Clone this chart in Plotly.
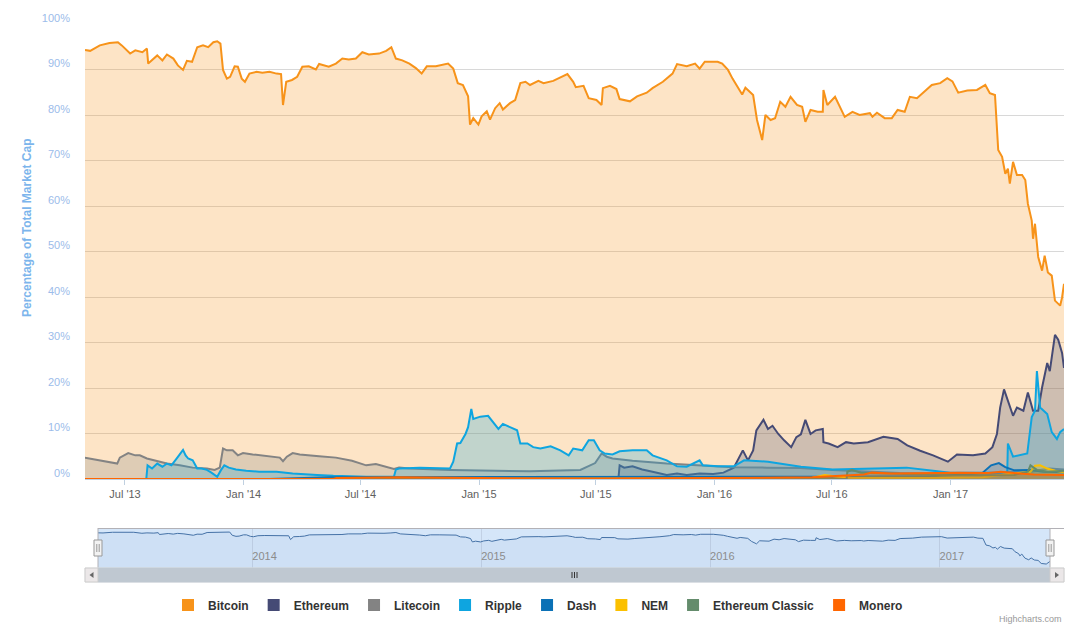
import plotly.graph_objects as go

# ---------------- data (percent of total market cap) ----------------
btc_dates = ["2013-04-30","2013-05-08","2013-05-23","2013-06-07","2013-06-20","2013-06-26","2013-07-09","2013-07-17","2013-07-28","2013-08-04",
"2013-08-06","2013-08-14","2013-08-20","2013-08-28","2013-09-04","2013-09-14","2013-09-21","2013-09-29","2013-10-05","2013-10-13",
"2013-10-21","2013-10-30","2013-11-07","2013-11-15","2013-11-21","2013-11-26","2013-11-30","2013-12-06","2013-12-11","2013-12-18",
"2013-12-23","2013-12-29","2014-01-03","2014-01-10","2014-01-21","2014-01-30","2014-02-10","2014-02-21","2014-02-28","2014-03-03",
"2014-03-08","2014-03-17","2014-03-25","2014-04-02","2014-04-12","2014-04-23","2014-04-28","2014-05-13","2014-05-24","2014-06-03",
"2014-06-13","2014-06-24","2014-07-04","2014-07-14","2014-07-30","2014-08-10","2014-08-18","2014-08-25","2014-09-04","2014-09-15",
"2014-09-25","2014-10-04","2014-10-12","2014-10-26","2014-11-14","2014-11-22","2014-11-29","2014-12-07","2014-12-15","2014-12-18",
"2014-12-23","2014-12-31","2015-01-05","2015-01-13","2015-01-18","2015-01-26","2015-02-02","2015-02-07","2015-02-18","2015-02-26",
"2015-03-06","2015-03-14","2015-03-21","2015-04-03","2015-04-11","2015-04-26","2015-05-18","2015-05-27","2015-05-31","2015-06-12",
"2015-06-20","2015-07-02","2015-07-10","2015-07-12","2015-07-23","2015-08-02","2015-08-07","2015-08-23","2015-09-03","2015-09-18",
"2015-09-27","2015-10-13","2015-10-28","2015-11-04","2015-11-19","2015-12-02","2015-12-09","2015-12-17","2016-01-06","2016-01-13",
"2016-01-22","2016-01-29","2016-02-05","2016-02-13","2016-02-18","2016-02-26","2016-03-01","2016-03-07","2016-03-15","2016-03-20",
"2016-03-28","2016-04-04","2016-04-12","2016-04-20","2016-04-28","2016-05-08","2016-05-16","2016-05-21","2016-05-29","2016-06-09",
"2016-06-17","2016-06-18","2016-06-24","2016-07-06","2016-07-13","2016-07-21","2016-08-02","2016-08-13","2016-08-29","2016-09-02",
"2016-09-09","2016-09-21","2016-10-02","2016-10-11","2016-10-22","2016-10-30","2016-11-10","2016-11-19","2016-12-03","2016-12-16",
"2016-12-27","2017-01-04","2017-01-13","2017-01-27","2017-02-11","2017-02-24","2017-03-03","2017-03-11","2017-03-16","2017-03-22",
"2017-03-27","2017-03-31","2017-04-03","2017-04-08","2017-04-14","2017-04-22","2017-04-27","2017-05-01","2017-05-07","2017-05-09",
"2017-05-12","2017-05-17","2017-05-23","2017-05-27","2017-06-01","2017-06-07","2017-06-12","2017-06-20","2017-06-23","2017-06-26"]
btc_vals = [94.3,94.1,95.3,95.8,96.0,95.3,93.5,94.2,93.8,94.6,
91.3,92.4,93.1,92.0,93.3,92.4,90.9,89.9,91.9,91.7,
94.9,95.3,94.9,96.0,96.2,95.7,89.9,88.0,88.4,90.7,
90.6,88.0,87.3,89.1,89.5,89.3,89.5,89.1,89.0,82.2,
87.3,87.7,88.4,90.6,90.7,90.0,91.2,90.6,91.3,92.4,
92.2,92.4,93.8,93.3,93.5,94.1,94.9,92.4,92.0,91.3,
90.3,89.1,90.7,90.7,91.3,90.2,87.0,86.6,84.1,77.9,
79.3,77.9,79.7,80.8,79.0,81.5,82.6,81.2,82.6,83.3,
87.0,87.3,86.6,87.5,87.0,87.5,89.0,87.3,86.1,86.4,
83.7,83.3,82.2,85.9,86.4,85.7,83.5,83.0,84.1,84.9,
85.9,87.3,89.1,91.2,90.7,91.3,90.2,91.7,91.7,91.3,
89.9,88.0,86.5,84.5,86.0,85.0,84.4,78.9,74.5,80.0,
78.9,79.3,82.9,81.8,84.0,82.2,81.8,78.5,81.1,80.7,
80.7,85.5,82.2,84.0,81.8,79.6,80.7,80.0,80.4,79.6,
80.5,79.3,79.3,81.1,80.7,84.0,83.7,84.8,86.6,87.0,
88.1,87.4,84.9,85.4,85.5,86.6,84.8,84.4,72.3,70.8,
67.1,68.2,64.9,69.7,66.8,66.8,65.7,60.5,56.8,52.8,
56.1,48.8,45.8,49.1,45.4,44.7,39.2,38.1,39.9,42.9]

eth_dates = ["2013-04-30","2015-08-05","2015-08-07","2015-08-14","2015-08-27","2015-09-11","2015-09-27","2015-10-19","2015-11-04","2015-11-19",
"2015-12-09","2015-12-30","2016-01-15","2016-01-31","2016-02-14","2016-02-22","2016-03-01","2016-03-06","2016-03-17","2016-03-24",
"2016-03-31","2016-04-09","2016-04-18","2016-04-29","2016-05-07","2016-05-14","2016-05-21","2016-05-29","2016-06-06","2016-06-17",
"2016-06-18","2016-06-26","2016-07-10","2016-07-23","2016-08-04","2016-08-26","2016-09-19","2016-10-11","2016-10-26","2016-11-15",
"2016-12-05","2016-12-28","2017-01-11","2017-02-05","2017-02-24","2017-03-07","2017-03-14","2017-03-19","2017-03-25","2017-03-31",
"2017-04-08","2017-04-14","2017-04-24","2017-05-01","2017-05-09","2017-05-17","2017-05-23","2017-05-31","2017-06-04","2017-06-12",
"2017-06-17","2017-06-23","2017-06-26"]
eth_vals = [0,0,3.0,2.5,2.8,2.1,1.6,0.9,1.2,0.9,
1.2,1.1,1.4,2.5,6.3,4.1,6.3,10.7,13.0,11.0,
11.7,9.9,8.5,7.0,9.2,9.8,13.0,9.9,10.7,11.0,
8.1,7.8,7.0,8.1,7.8,8.1,9.3,8.8,7.4,6.2,
5.2,3.8,5.4,5.2,5.6,7.0,9.9,15.7,19.7,17.2,
13.9,15.7,15.0,19.0,15.0,15.0,20.1,25.5,23.7,31.7,
30.6,27.7,24.4]

ltc_dates = ["2013-04-30","2013-05-23","2013-06-07","2013-06-19","2013-06-23","2013-07-06","2013-07-17","2013-07-24","2013-08-04","2013-08-20",
"2013-09-04","2013-09-24","2013-10-14","2013-11-05","2013-11-17","2013-11-25","2013-11-30","2013-12-06","2013-12-15","2013-12-23",
"2013-12-31","2014-01-15","2014-02-06","2014-02-26","2014-03-03","2014-03-09","2014-03-18","2014-03-29","2014-04-28","2014-05-24",
"2014-06-18","2014-07-10","2014-07-25","2014-08-14","2014-08-22","2014-08-30","2014-09-15","2014-11-17","2015-01-22","2015-03-21",
"2015-06-07","2015-06-30","2015-07-10","2015-07-18","2015-07-27","2015-08-27","2015-10-19","2015-12-09","2016-01-29","2016-03-22",
"2016-05-13","2016-07-02","2016-08-22","2016-10-14","2017-01-01","2017-03-03","2017-04-03","2017-05-04","2017-05-20","2017-06-04",
"2017-06-26"]
ltc_vals = [4.7,4.1,3.8,3.4,4.7,5.7,5.2,5.2,4.5,4.0,
3.4,3.0,2.5,2.3,2.0,2.5,6.7,6.3,6.3,5.2,
5.7,5.4,5.0,4.7,3.9,4.9,5.7,5.4,5.0,4.7,
4.0,3.0,3.3,2.5,2.2,2.5,2.3,2.0,1.8,1.7,
2.0,3.5,5.6,4.9,4.5,4.0,3.4,3.0,2.6,2.5,
2.4,2.0,1.6,1.3,1.1,1.2,1.5,1.5,2.0,2.3,
2.1]

xrp_dates = ["2013-04-30","2013-08-03","2013-08-05","2013-08-12","2013-08-20","2013-08-28","2013-09-04","2013-09-11","2013-09-19","2013-09-24",
"2013-09-29","2013-10-03","2013-10-07","2013-10-14","2013-10-21","2013-10-28","2013-11-05","2013-11-12","2013-11-21","2013-11-27",
"2013-12-02","2013-12-09","2013-12-20","2014-01-05","2014-01-25","2014-02-21","2014-03-18","2014-04-25","2014-05-20","2014-07-10",
"2014-08-22","2014-08-25","2014-08-30","2014-10-01","2014-11-17","2014-11-22","2014-11-28","2014-12-03","2014-12-11","2014-12-15",
"2014-12-20","2014-12-23","2015-01-03","2015-01-15","2015-01-23","2015-01-31","2015-02-07","2015-02-18","2015-03-01","2015-03-06",
"2015-03-17","2015-03-26","2015-04-06","2015-04-22","2015-05-07","2015-05-20","2015-05-27","2015-06-10","2015-06-20","2015-06-28",
"2015-07-07","2015-07-15","2015-07-27","2015-08-07","2015-08-27","2015-09-18","2015-09-27","2015-10-19","2015-11-04","2015-11-19",
"2015-12-09","2015-12-14","2016-01-06","2016-01-31","2016-02-16","2016-03-24","2016-04-18","2016-05-14","2016-07-02","2016-09-13",
"2016-10-25","2016-12-05","2017-01-01","2017-02-21","2017-03-30","2017-03-31","2017-04-08","2017-04-30","2017-05-07","2017-05-12",
"2017-05-15","2017-05-20","2017-05-31","2017-06-07","2017-06-15","2017-06-20","2017-06-26"]
xrp_vals = [0,0,3.0,2.3,3.4,2.7,3.4,3.0,4.5,5.4,
6.4,5.2,4.5,4.1,2.3,2.3,2.0,1.4,0.5,2.0,
3.0,2.5,2.1,1.8,1.6,1.6,1.2,0.9,0.7,0.5,
0.5,2.1,2.3,2.5,2.3,3.8,7.8,7.9,9.9,11.4,
15.4,13.2,13.7,13.9,12.5,11.0,12.1,11.4,10.7,7.8,
7.8,7.0,6.7,7.2,6.3,5.2,6.7,6.3,8.5,8.5,
6.3,5.6,5.4,6.1,6.3,6.3,5.2,4.1,2.8,2.7,
4.1,3.0,2.8,2.8,4.1,3.8,3.2,2.7,2.1,2.3,
2.5,1.8,1.4,1.4,1.4,7.8,4.9,5.6,13.6,15.0,
23.7,15.7,14.3,10.3,8.8,10.3,11.0]

dash_dates = ["2013-04-30","2014-02-10","2014-05-15","2014-07-01","2014-08-20","2014-10-01","2015-01-01","2015-07-01","2016-01-01","2016-07-01",
"2016-12-01","2017-01-27","2017-02-20","2017-03-05","2017-03-17","2017-03-27","2017-04-10","2017-05-05","2017-05-25","2017-06-26"]
dash_vals = [0,0,0.4,0.4,0.5,0.5,0.4,0.4,0.5,0.5,
0.6,1.0,1.4,3.0,3.5,2.6,1.9,2.0,1.6,1.5]

nem_dates = ["2013-04-30","2015-04-01","2015-04-05","2016-01-01","2016-06-01","2016-06-20","2016-07-05","2016-08-01","2016-12-01","2017-02-20",
"2017-03-20","2017-04-20","2017-05-05","2017-05-12","2017-05-20","2017-05-31","2017-06-12","2017-06-26"]
nem_vals = [0,0,0.1,0.1,0.3,0.9,0.6,0.3,0.3,0.4,
0.9,1.4,1.6,2.9,3.0,2.3,1.8,1.5]

etc_dates = ["2013-04-30","2016-07-24","2016-07-25","2016-08-01","2016-08-15","2016-09-15","2016-11-01","2017-01-01","2017-03-01","2017-04-10",
"2017-05-01","2017-05-05","2017-05-15","2017-06-01","2017-06-26"]
etc_vals = [0,0,1.6,2.0,1.4,1.3,1.0,0.8,0.8,0.9,
1.6,3.0,2.0,1.6,1.8]

xmr_dates = ["2013-04-30","2014-05-20","2014-05-25","2014-09-01","2015-01-01","2015-07-01","2016-01-01","2016-06-01","2016-08-20","2016-09-01",
"2016-10-01","2016-12-01","2017-01-15","2017-03-01","2017-03-20","2017-04-10","2017-05-10","2017-06-26"]
xmr_vals = [0,0,0.2,0.4,0.2,0.1,0.2,0.4,1.0,1.4,
1.2,1.3,1.4,1.3,1.6,1.3,1.0,0.9]

series_names = ["Bitcoin","Ethereum","Litecoin","Ripple","Dash","NEM","Ethereum Classic","Monero"]
series_colors = ["#f7931a","#454a75","#838383","#0ea5e0","#0b71b6","#fbc000","#648c6c","#ff6600"]
series_data = [(btc_dates,btc_vals),(eth_dates,eth_vals),(ltc_dates,ltc_vals),(xrp_dates,xrp_vals),
               (dash_dates,dash_vals),(nem_dates,nem_vals),(etc_dates,etc_vals),(xmr_dates,xmr_vals)]

main_tickvals = ["2013-07-01","2014-01-01","2014-07-01","2015-01-01","2015-07-01","2016-01-01","2016-07-01","2017-01-01"]
main_ticktext = ["Jul '13","Jan '14","Jul '14","Jan '15","Jul '15","Jan '16","Jul '16","Jan '17"]
nav_tickvals = ["2014-01-01","2015-01-01","2016-01-01","2017-01-01"]
nav_ticktext = ["2014","2015","2016","2017"]
y_tickvals = [0,10,20,30,40,50,60,70,80,90,100]
y_ticktext = [f"{v}%" for v in y_tickvals]
X_RANGE = ["2013-04-30","2017-06-26"]

# ---------------- layout geometry (pixels) ----------------
W, H = 1076, 624
ML, MR, MT, MB = 85, 12, 24, 56
PW = W - ML - MR
PH = H - MT - MB
def px_x(p): return (p - ML) / PW
def px_y(p): return (H - MB - p) / PH

FONT = "Liberation Sans, Arial, sans-serif"

def rgba(hexc, a):
    h = hexc.lstrip('#')
    r, g, b = int(h[0:2],16), int(h[2:4],16), int(h[4:6],16)
    return f"rgba({r},{g},{b},{a})"

fig = go.Figure()
for name, col, (d, v) in zip(series_names, series_colors, series_data):
    fig.add_trace(go.Scatter(x=d, y=v, mode="lines", line=dict(color=col, width=2),
                             fill="tozeroy", fillcolor=rgba(col, 0.25), name=name,
                             showlegend=False, hoverinfo="skip", xaxis="x", yaxis="y"))
for name, col in zip(series_names, series_colors):
    fig.add_trace(go.Scatter(x=[None], y=[None], mode="markers", name=name,
                             marker=dict(symbol="square", size=12, color=col),
                             showlegend=True, xaxis="x", yaxis="y"))
# navigator series
fig.add_trace(go.Scatter(x=btc_dates, y=btc_vals, mode="lines", line=dict(color="#4572a7", width=1),
                         fill="tozeroy", fillcolor="rgba(69,114,167,0.05)", showlegend=False,
                         hoverinfo="skip", xaxis="x2", yaxis="y2"))

shapes = []
# navigator mask
shapes.append(dict(type="rect", xref="paper", yref="paper", x0=px_x(98), x1=px_x(1050),
                   y0=px_y(568), y1=px_y(528), fillcolor="rgba(128,179,236,0.33)", line=dict(width=0), layer="below"))
# outline
shapes.append(dict(type="line", xref="paper", yref="paper", x0=px_x(98), x1=px_x(1064), y0=px_y(528.5), y1=px_y(528.5),
                   line=dict(color="#b2b1b6", width=1)))
for xx in (98, 1050):
    shapes.append(dict(type="line", xref="paper", yref="paper", x0=px_x(xx), x1=px_x(xx), y0=px_y(528), y1=px_y(568),
                       line=dict(color="#b2b1b6", width=1)))
# scrollbar
shapes.append(dict(type="rect", xref="paper", yref="paper", x0=px_x(85), x1=px_x(1064), y0=px_y(582), y1=px_y(568),
                   fillcolor="#eeeeee", line=dict(color="#eeeeee", width=1)))
shapes.append(dict(type="rect", xref="paper", yref="paper", x0=px_x(98), x1=px_x(1050), y0=px_y(582), y1=px_y(568),
                   fillcolor="#bfc8d1", line=dict(color="#bfc8d1", width=1)))
for a, b in ((85, 98), (1050, 1064)):
    shapes.append(dict(type="rect", xref="paper", yref="paper", x0=px_x(a), x1=px_x(b), y0=px_y(582), y1=px_y(568),
                       fillcolor="#ebe7e8", line=dict(color="#cccccc", width=1)))
def tri(cx, cy, d):
    pts = [(cx + 2*d, cy - 3), (cx + 2*d, cy + 3), (cx - 2*d, cy)]
    path = "M " + " L ".join(f"{px_x(x)},{px_y(y)}" for x, y in pts) + " Z"
    return dict(type="path", xref="paper", yref="paper", path=path, fillcolor="#666666", line=dict(color="#666666", width=0))
shapes.append(tri(91.5, 575, 1))
shapes.append(tri(1057, 575, -1))
for gx in (572, 574.5, 577):
    shapes.append(dict(type="line", xref="paper", yref="paper", x0=px_x(gx), x1=px_x(gx), y0=px_y(572), y1=px_y(578),
                       line=dict(color="#333333", width=1)))
for hx in (98, 1050):
    shapes.append(dict(type="rect", xref="paper", yref="paper", x0=px_x(hx-4), x1=px_x(hx+4), y0=px_y(556), y1=px_y(540),
                       fillcolor="#f2f2f2", line=dict(color="#999999", width=1)))
    for ix in (hx-1.2, hx+1.2):
        shapes.append(dict(type="line", xref="paper", yref="paper", x0=px_x(ix), x1=px_x(ix), y0=px_y(544), y1=px_y(552),
                           line=dict(color="#999999", width=1)))

fig.update_layout(
    width=W, height=H, margin=dict(l=ML, r=MR, t=MT, b=MB, autoexpand=False),
    paper_bgcolor="white", plot_bgcolor="white",
    font=dict(family=FONT, size=11, color="#606060"),
    showlegend=True,
    legend=dict(orientation="h", x=px_x(538), xanchor="center", y=px_y(605), yanchor="middle",
                font=dict(family=FONT, size=12, color="#333333", weight="bold"),
                itemclick=False, itemdoubleclick=False, bgcolor="rgba(0,0,0,0)", tracegroupgap=0),
    # main x axis: labels with short ticks; the overlaid xaxis3 draws the full-length tick marks
    xaxis=dict(domain=[0, 1], anchor="y", type="date", range=X_RANGE, tickvals=main_tickvals, ticktext=main_ticktext,
               ticks="outside", ticklen=5, tickcolor="#c0d0e0", showline=True, linecolor="#c0d0e0", linewidth=1,
               showgrid=False, zeroline=False, tickfont=dict(size=11, color="#606060"), fixedrange=True),
    xaxis3=dict(overlaying="x", matches="x", anchor="y", type="date", tickvals=main_tickvals,
                showticklabels=False, ticks="outside", ticklen=10, tickcolor="#c0d0e0",
                showline=False, showgrid=False, zeroline=False, fixedrange=True),
    yaxis=dict(domain=[px_y(479), 1], anchor="x", range=[0, 100], tickvals=y_tickvals, ticktext=y_ticktext,
               showgrid=True, gridcolor="#d8d8d8", gridwidth=1, zeroline=False, showline=False, ticks="",
               tickfont=dict(size=11, color="#9cbcea"), ticklabelstandoff=14, ticklabelshift=-6, fixedrange=True),
    xaxis2=dict(domain=[px_x(98), px_x(1050)], anchor="y2", type="date", range=X_RANGE,
                tickvals=nav_tickvals, ticktext=nav_ticktext, ticklabelposition="inside right",
                showgrid=True, gridcolor="rgba(170,185,205,0.45)", ticks="", showline=False, zeroline=False,
                tickfont=dict(size=11, color="#8c8c8c"), fixedrange=True),
    yaxis2=dict(domain=[0, px_y(528)], anchor="x2", range=[31, 103], showgrid=False, showticklabels=False,
                zeroline=False, showline=False, ticks="", fixedrange=True),
    shapes=shapes,
    annotations=[
        dict(text="<b>Percentage of Total Market Cap</b>", textangle=-90, xref="paper", yref="paper",
             x=px_x(27), y=px_y(228), xanchor="center", yanchor="middle", showarrow=False,
             font=dict(family=FONT, size=12, color="#7cb5ec")),
        dict(text="Highcharts.com", xref="paper", yref="paper", x=px_x(1064), y=px_y(612),
             xanchor="right", yanchor="top", showarrow=False, font=dict(family=FONT, size=9, color="#999999")),
    ],
)

fig.write_html("out.html", config={"displayModeBar": False},
               post_script="document.body.style.margin='0';document.body.style.overflow='hidden';")
